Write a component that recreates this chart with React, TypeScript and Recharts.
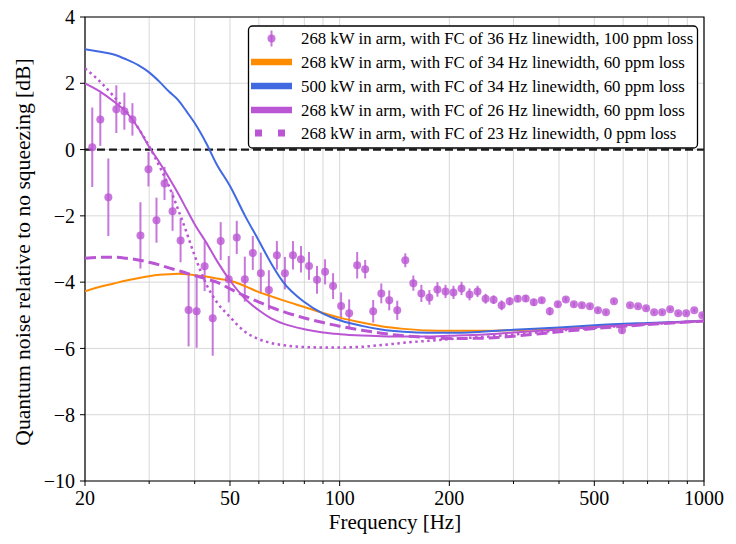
import {
  ComposedChart,
  Line,
  Scatter,
  ErrorBar,
  XAxis,
  YAxis,
  CartesianGrid,
  ReferenceLine,
  ReferenceArea,
} from 'recharts';

const FONT = '"Liberation Serif", "Times New Roman", serif';
const ORCHID = '#ba55d3';
const ORANGE = '#ff8c00';
const BLUE = '#4169e1';

// measured points: 268 kW, FC 36 Hz linewidth, 100 ppm loss
const measFreqs = [
  20.94, 22.03, 23.18, 24.38, 25.65, 26.99, 28.39, 29.87, 31.42, 33.06,
  34.78, 36.59, 38.49, 40.5, 42.6, 44.83, 47.15, 49.61, 52.19, 54.91,
  57.76, 60.76, 63.93, 67.25, 70.75, 74.44, 78.31, 82.38, 86.67, 91.19,
  95.92, 100.9, 106.2, 111.7, 117.5, 123.6, 130.1, 136.8, 143.9, 151.4,
  159.3, 167.6, 176.3, 185.5, 195.2, 205.3, 216.0, 227.2, 239.0, 251.5,
  264.6, 278.3, 292.8, 308.1, 324.1, 341.0, 358.7, 377.4, 397.0, 417.7,
  439.4, 462.2, 486.3, 511.6, 538.2, 566.2, 595.7, 626.6, 659.2, 693.6,
  729.6, 767.6, 807.5, 849.5, 893.7, 940.3, 989.2,
];
const measValues = [
  0.07, 0.91, -1.44, 1.22, 1.16, 0.91, -2.59, -0.59, -2.13, -1.02,
  -1.86, -2.74, -4.84, -4.88, -3.52, -5.09, -2.76, -3.91, -2.65, -3.91,
  -3.12, -3.73, -4.24, -3.19, -3.73, -3.19, -3.31, -3.51, -3.93, -3.69,
  -4.12, -4.72, -4.94, -3.49, -3.61, -4.88, -4.34, -4.55, -4.85, -3.34,
  -4.03, -4.34, -4.46, -4.22, -4.28, -4.31, -4.19, -4.37, -4.28, -4.5,
  -4.53, -4.7, -4.58, -4.5, -4.49, -4.61, -4.55, -4.88, -4.67, -4.52,
  -4.67, -4.7, -4.73, -4.85, -4.91, -4.58, -5.45, -4.7, -4.73, -4.79,
  -4.91, -4.91, -4.82, -4.94, -4.94, -4.85, -5.0,
];
const measErrors = [
  1.2, 0.8, 1.17, 0.72, 0.56, 0.49, 1.0, 0.52, 0.68, 0.5,
  0.59, 0.66, 1.1, 1.1, 0.75, 1.13, 0.57, 0.7, 0.5, 0.68,
  0.51, 0.62, 0.6, 0.43, 0.49, 0.43, 0.4, 0.42, 0.42, 0.38,
  0.39, 0.41, 0.42, 0.4, 0.28, 0.34, 0.3, 0.3, 0.29, 0.21,
  0.23, 0.26, 0.22, 0.22, 0.2, 0.2, 0.2, 0.18, 0.17, 0.15,
  0.13, 0.15, 0.12, 0.1, 0.1, 0.1, 0.08, 0.12, 0.08, 0.07,
  0.07, 0.07, 0.06, 0.06, 0.06, 0.06, 0.1, 0.05, 0.05, 0.05,
  0.05, 0.05, 0.05, 0.05, 0.05, 0.05, 0.05,
];

// model curves
const curveFreqs = [
  20, 22, 24, 26, 28, 30, 32, 34, 36, 38, 40, 43, 46, 50, 55, 60,
  65, 70, 80, 90, 100, 115, 130, 150, 175, 200, 250, 300, 400, 500, 700, 1000,
];
const fc34Loss60 = [
  -4.28, -4.14, -4.04, -3.95, -3.88, -3.82, -3.78, -3.76, -3.75, -3.76, -3.79, -3.83, -3.89, -3.96, -4.12, -4.3,
  -4.43, -4.55, -4.75, -4.93, -5.07, -5.22, -5.33, -5.41, -5.46, -5.47, -5.47, -5.45, -5.39, -5.33, -5.25, -5.17,
];
const kw500Fc34 = [
  3.03, 2.95, 2.87, 2.72, 2.55, 2.33, 2.05, 1.75, 1.5, 1.15, 0.8, 0.2, -0.45, -1.1, -2.0, -2.75,
  -3.45, -4.0, -4.6, -4.95, -5.15, -5.32, -5.43, -5.5, -5.53, -5.53, -5.49, -5.44, -5.37, -5.3, -5.23, -5.17,
];
const fc26Loss60 = [
  2.0, 1.75, 1.45, 1.12, 0.65, 0.08, -0.38, -0.85, -1.32, -1.8, -2.25, -2.8, -3.35, -3.95, -4.5, -4.85,
  -5.1, -5.25, -5.42, -5.52, -5.57, -5.61, -5.63, -5.64, -5.64, -5.62, -5.58, -5.52, -5.43, -5.36, -5.26, -5.17,
];
const fc23Loss0 = [
  2.45, 2.05, 1.6, 1.15, 0.65, 0.1, -0.5, -1.1, -1.8, -2.5, -3.2, -4.05, -4.6, -5.05, -5.5, -5.72,
  -5.84, -5.9, -5.96, -5.97, -5.97, -5.95, -5.9, -5.83, -5.77, -5.72, -5.65, -5.58, -5.46, -5.38, -5.27, -5.17,
];
const dashedCurve = [
  -3.28, -3.25, -3.25, -3.28, -3.33, -3.4, -3.48, -3.57, -3.65, -3.73, -3.8, -3.9, -4.0, -4.2, -4.42, -4.6,
  -4.76, -4.89, -5.08, -5.22, -5.33, -5.45, -5.54, -5.62, -5.67, -5.7, -5.69, -5.63, -5.5, -5.4, -5.28, -5.17,
];

const xTicks = [20, 30, 40, 50, 60, 70, 80, 90, 100, 200, 300, 400, 500, 600, 700, 800, 900, 1000];
const xLabels = [20, 50, 100, 200, 500, 1000];
const yTicks = [-10, -8, -6, -4, -2, 0, 2, 4];

const legendLabels = [
  '268 kW in arm, with FC of 36 Hz linewidth, 100 ppm loss',
  '268 kW in arm, with FC of 34 Hz linewidth, 60 ppm loss',
  '500 kW in arm, with FC of 34 Hz linewidth, 60 ppm loss',
  '268 kW in arm, with FC of 26 Hz linewidth, 60 ppm loss',
  '268 kW in arm, with FC of 23 Hz linewidth, 0 ppm loss',
];

const measData = measFreqs.map((f, i) => ({ f, v: measValues[i], err: measErrors[i] }));
const toCurve = (vals: number[]) => curveFreqs.map((f, i) => ({ f, v: vals[i] }));

const fmtY = (v: number) => (v < 0 ? `\u2212${Math.abs(v)}` : `${v}`);

function XTick(props: any) {
  const { x, y, payload } = props;
  const v = payload.value;
  const major = xLabels.includes(v);
  return (
    <g>
      <line x1={x} x2={x} y1={y} y2={y + (major ? 5 : 3)} stroke="#000" strokeWidth={1} />
      {major && (
        <text x={x} y={y + 8} dy="0.78em" textAnchor="middle" fontSize={20} fontFamily={FONT} fill="#000">
          {v}
        </text>
      )}
    </g>
  );
}

function Dot(props: any) {
  const { cx, cy } = props;
  return <circle cx={cx} cy={cy} r={4} fill={ORCHID} fillOpacity={0.8} />;
}

function LegendBox() {
  const rows = [38.5, 62, 86, 110, 133];
  return (
    <g fontFamily={FONT} fontSize={16.8}>
      <rect x={248.5} y={26} width={449} height={122} rx={4} fill="#fff" stroke="#000" strokeWidth={1.3} />
      <line x1={271.5} x2={271.5} y1={rows[0] - 8} y2={rows[0] + 8} stroke={ORCHID} strokeOpacity={0.8} strokeWidth={2} />
      <circle cx={271.5} cy={rows[0]} r={4} fill={ORCHID} fillOpacity={0.8} />
      <line x1={251} x2={292} y1={rows[1]} y2={rows[1]} stroke={ORANGE} strokeWidth={6.5} />
      <line x1={251} x2={292} y1={rows[2]} y2={rows[2]} stroke={BLUE} strokeWidth={6.5} />
      <line x1={251} x2={292} y1={rows[3]} y2={rows[3]} stroke={ORCHID} strokeWidth={6.5} />
      <line x1={255} x2={290} y1={rows[4]} y2={rows[4]} stroke={ORCHID} strokeWidth={7} strokeDasharray="7 16" />
      {legendLabels.map((t, i) => (
        <text key={t} x={301} y={rows[i]} dy="0.33em" fill="#000">
          {t}
        </text>
      ))}
    </g>
  );
}

export default function App() {
  return (
    <div style={{ position: 'fixed', left: 0, top: 0, width: 736, height: 544, background: '#fff' }}>
      <ComposedChart width={736} height={544} margin={{ top: 17, right: 32, bottom: 0, left: 0 }}>
        <CartesianGrid stroke="#d4d4d4" strokeWidth={0.9} />
        <XAxis
          dataKey="f"
          type="number"
          scale="log"
          domain={[20, 1000]}
          allowDataOverflow
          ticks={xTicks}
          interval={0}
          height={63}
          axisLine={false}
          tickLine={false}
          tickSize={0}
          tickMargin={0}
          tick={<XTick />}
        />
        <YAxis
          type="number"
          domain={[-10, 4]}
          allowDataOverflow
          ticks={yTicks}
          interval={0}
          width={85}
          axisLine={false}
          tickLine={{ stroke: '#000' }}
          tickSize={5}
          tickMargin={5}
          tickFormatter={fmtY}
          tick={{ fontSize: 20, fontFamily: FONT, fill: '#000' }}
        />
        <ReferenceLine y={0} stroke="#1a1a1a" strokeWidth={2.2} strokeDasharray="8 4" />
        <Scatter data={measData} dataKey="v" shape={<Dot />} isAnimationActive={false}>
          <ErrorBar dataKey="err" direction="y" width={0} stroke={ORCHID} strokeOpacity={0.8} strokeWidth={2} isAnimationActive={false} />
        </Scatter>
        <Line data={toCurve(fc34Loss60)} dataKey="v" type="monotone" stroke={ORANGE} strokeWidth={2} dot={false} activeDot={false} isAnimationActive={false} />
        <Line data={toCurve(kw500Fc34)} dataKey="v" type="monotone" stroke={BLUE} strokeWidth={2} dot={false} activeDot={false} isAnimationActive={false} />
        <Line data={toCurve(fc26Loss60)} dataKey="v" type="monotone" stroke={ORCHID} strokeWidth={2} dot={false} activeDot={false} isAnimationActive={false} />
        <Line data={toCurve(fc23Loss0)} dataKey="v" type="monotone" stroke={ORCHID} strokeWidth={2.5} strokeDasharray="2.5 3.5" dot={false} activeDot={false} isAnimationActive={false} />
        <Line data={toCurve(dashedCurve)} dataKey="v" type="monotone" stroke={ORCHID} strokeWidth={3} strokeDasharray="11 5" dot={false} activeDot={false} isAnimationActive={false} />
        <ReferenceArea x1={20} x2={1000} y1={-10} y2={4} fill="none" stroke="#000" strokeWidth={1.2} />
      </ComposedChart>
      <svg width={736} height={544} style={{ position: 'absolute', left: 0, top: 0, pointerEvents: 'none' }}>
        <text x={395} y={522} dy="0.35em" textAnchor="middle" fontSize={21} fontFamily={FONT} fill="#000">
          Frequency [Hz]
        </text>
        <text
          x={22}
          y={252}
          dy="0.35em"
          textAnchor="middle"
          fontSize={21.6}
          fontFamily={FONT}
          fill="#000"
          transform="rotate(-90 22 252)"
        >
          Quantum noise relative to no squeezing [dB]
        </text>
        <LegendBox />
      </svg>
    </div>
  );
}
